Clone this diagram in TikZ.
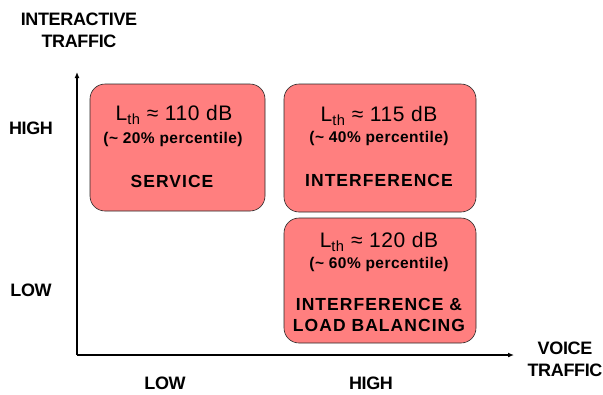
\documentclass[tikz,border=0pt]{standalone}
\usepackage{fontspec}
\setmainfont{Liberation Sans}
\usetikzlibrary{arrows.meta}
\begin{document}
\begin{tikzpicture}[x=1pt,y=-1pt,
  box/.style={draw=black!85,line width=0.6pt,fill=boxred,rounded corners=15pt,inner sep=0pt},
  lbl/.style={font=\bfseries\fontsize{18}{22}\selectfont\addfontfeature{LetterSpace=-2},align=center,inner sep=0pt},
  lth/.style={font=\fontsize{21}{23}\selectfont\addfontfeature{LetterSpace=3},inner sep=0pt},
  pct/.style={font=\bfseries\fontsize{15.5}{17}\selectfont\addfontfeature{LetterSpace=3},inner sep=0pt},
  cat/.style={font=\bfseries\fontsize{17.5}{21}\selectfont\addfontfeature{LetterSpace=6},align=center,inner sep=0pt},
  axis/.style={line width=1.3pt,-{Latex[length=6pt,width=5pt]}}]
\definecolor{boxred}{HTML}{FF7F7F}
\useasboundingbox (0,0) rectangle (603,394);
% boxes
\node[box,minimum width=175pt,minimum height=127pt] (b1) at (177.5,147.5) {};
\node[box,minimum width=192pt,minimum height=128pt] (b2) at (380,148) {};
\node[box,minimum width=192pt,minimum height=125pt] (b3) at (380,280.5) {};
% box texts
\node[lth] (t1a) at (174,115) {L\textsubscript{th} ≈ 110 dB};
\node[pct] (t1b) at (173,139) {(\textasciitilde{} 20\% percentile)};
\node[cat] (t1c) at (172,181) {SERVICE};
\node[lth] (t2a) at (379,116) {L\textsubscript{th} ≈ 115 dB};
\node[pct] (t2b) at (379,138) {(\textasciitilde{} 40\% percentile)};
\node[cat] (t2c) at (379,180) {INTERFERENCE};
\node[lth] (t3a) at (379,242) {L\textsubscript{th} ≈ 120 dB};
\node[pct] (t3b) at (379,264) {(\textasciitilde{} 60\% percentile)};
\node[cat] (t3c) at (379,315) {INTERFERENCE \&\\LOAD BALANCING};
% axes
\coordinate (o) at (77,355);
\coordinate (ytip) at (77,72);
\coordinate (xtip) at (514,355);
\draw[axis] (o) -- (ytip);
\draw[axis] (o) -- (xtip);
% axis labels
\node[lbl] (ya) at (79,30) {INTERACTIVE\\TRAFFIC};
\node[lbl] (xa) at (565,359) {VOICE\\TRAFFIC};
\node[lbl] (yh) at (31,128) {HIGH};
\node[lbl] (yl) at (31,290) {LOW};
\node[lbl] (xl) at (165,383) {LOW};
\node[lbl] (xh) at (371,383) {HIGH};
\end{tikzpicture}
\end{document}
